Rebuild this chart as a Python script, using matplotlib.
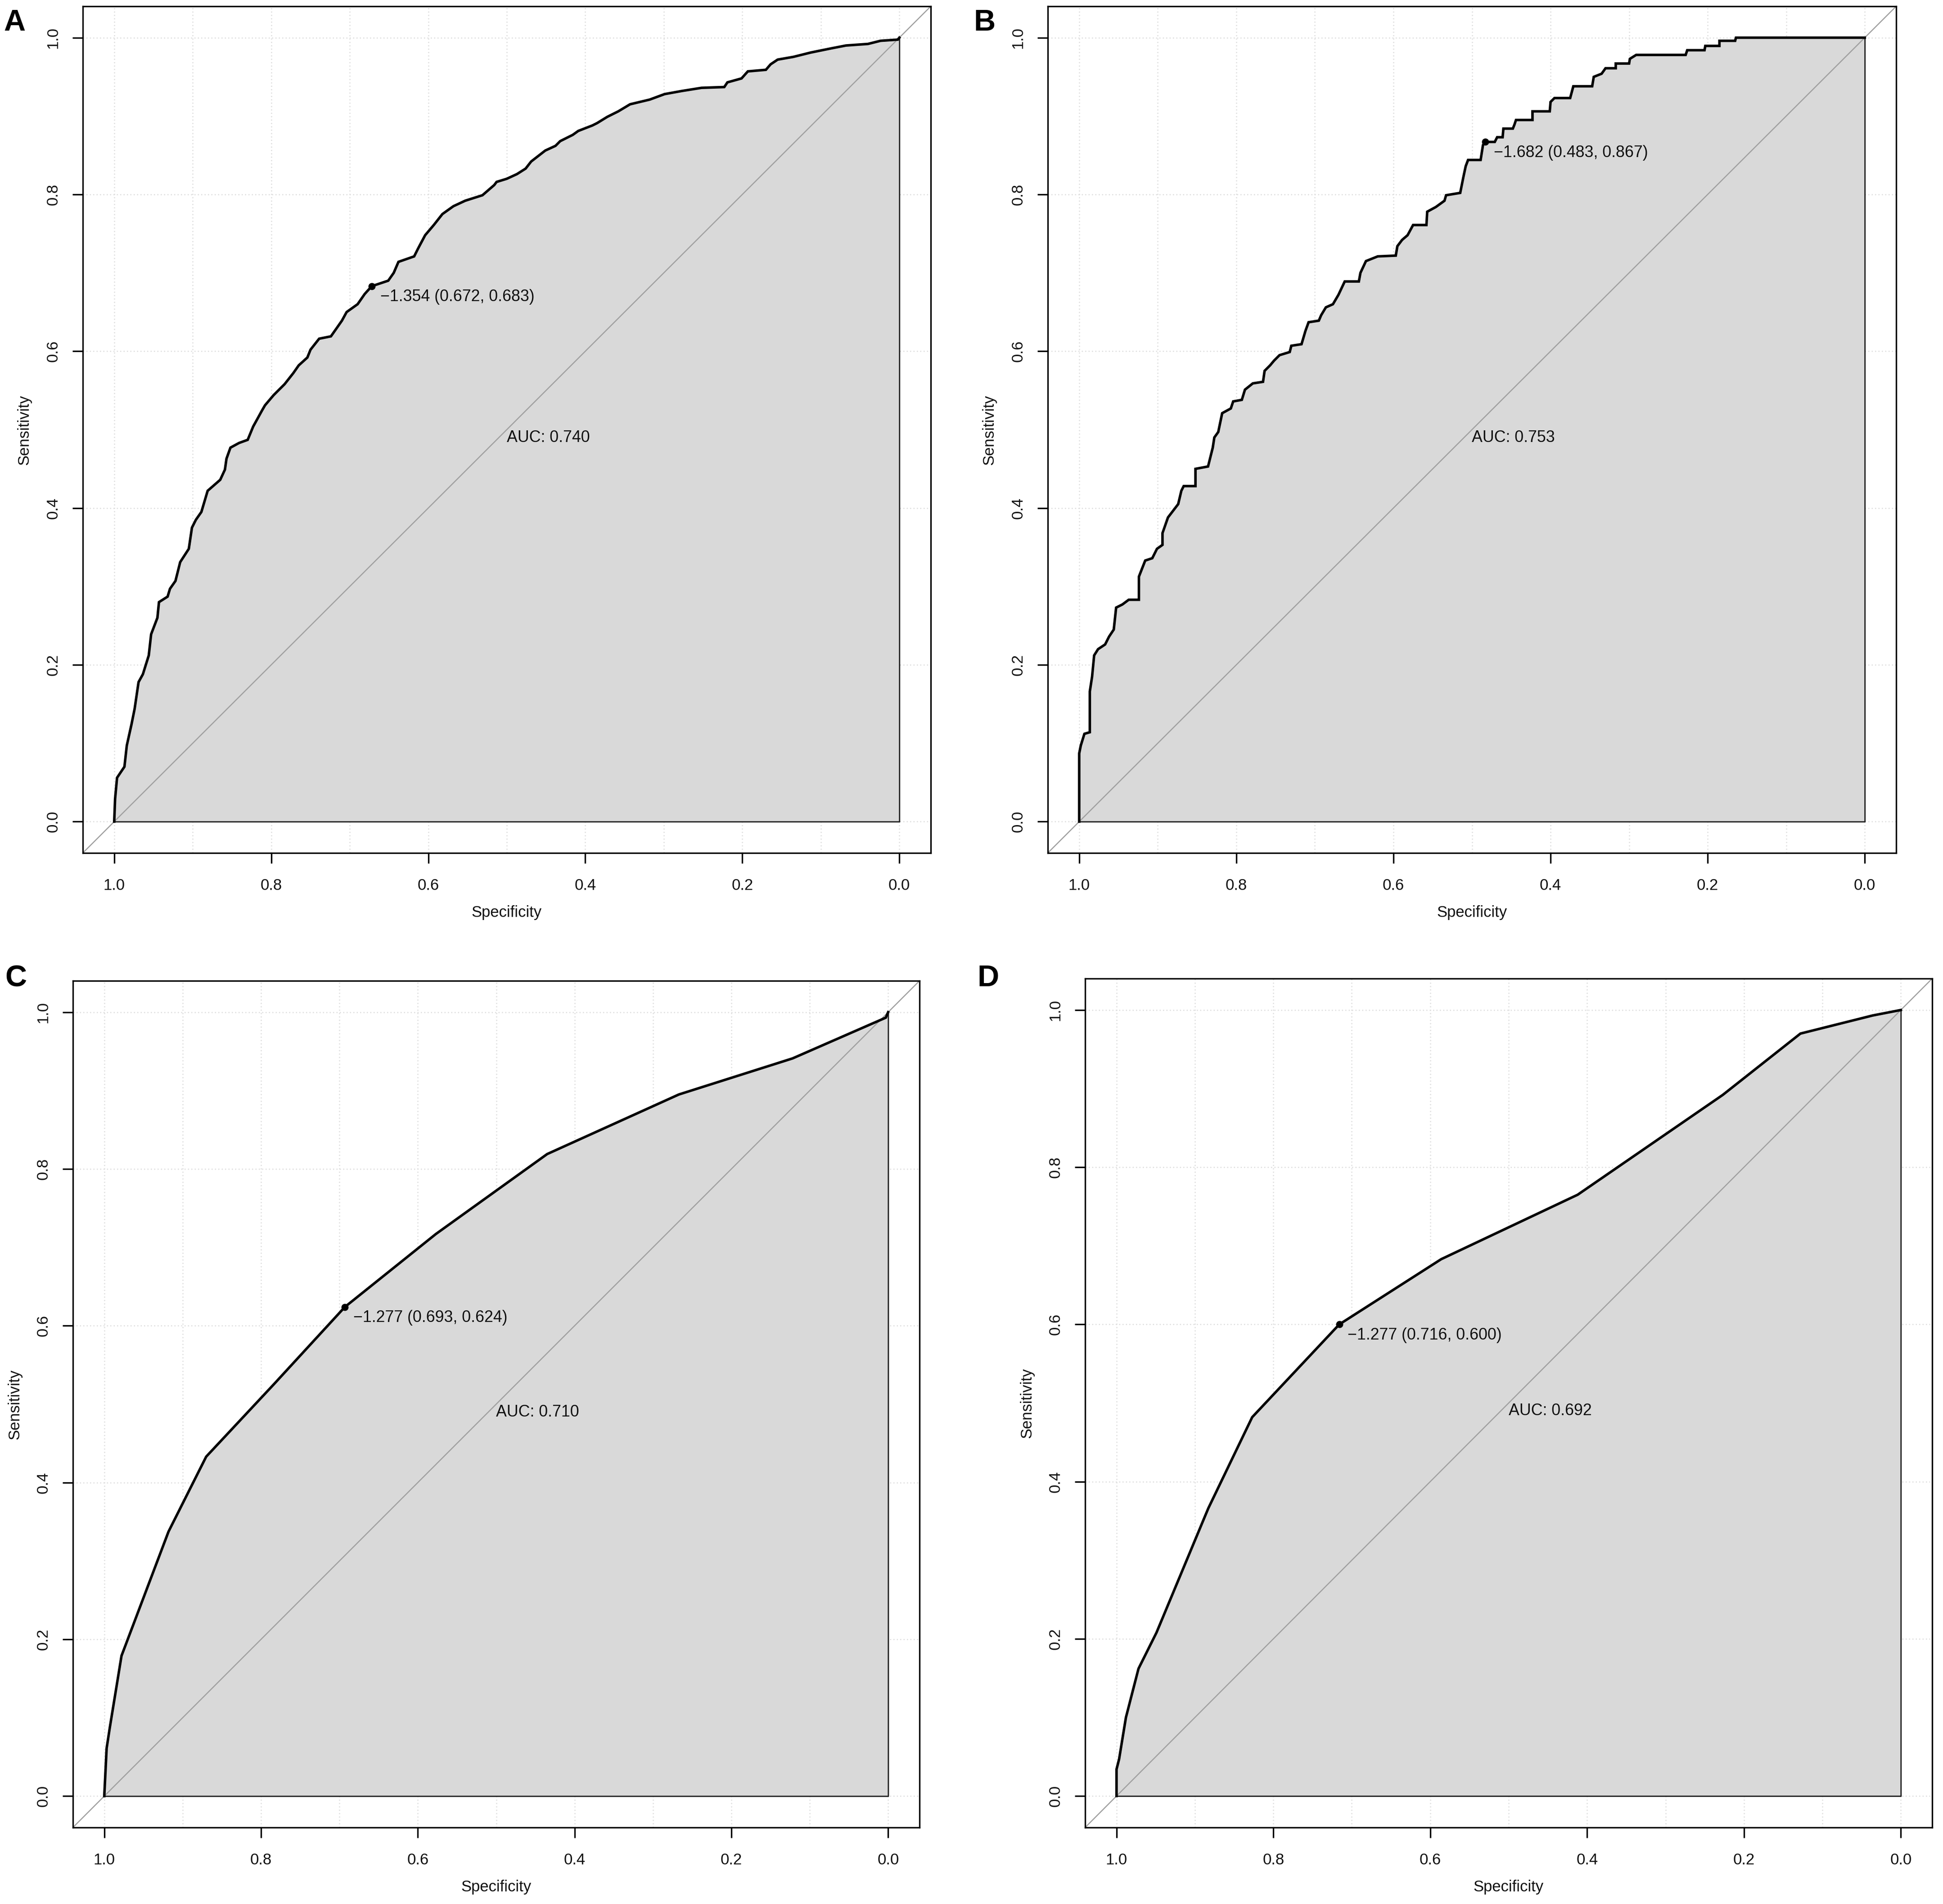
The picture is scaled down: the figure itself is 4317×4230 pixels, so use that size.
import matplotlib
matplotlib.use("Agg")
import matplotlib.pyplot as plt
import numpy as np

plt.rcParams['font.family'] = ['Liberation Sans', 'DejaVu Sans']

# ---------------- data ----------------
spec_A = [1.000, 0.9989, 0.9964, 0.987, 0.984, 0.978, 0.974, 0.969, 0.9635, 0.956,
          0.953, 0.945, 0.943, 0.932, 0.929, 0.922, 0.916, 0.905, 0.901, 0.896,
          0.889, 0.881, 0.865, 0.859, 0.857, 0.852, 0.841, 0.830, 0.823, 0.812,
          0.808, 0.797, 0.783, 0.772, 0.765, 0.754, 0.750, 0.739, 0.724, 0.717,
          0.710, 0.704, 0.690, 0.681, 0.672, 0.651, 0.644, 0.638, 0.618, 0.613,
          0.604, 0.593, 0.582, 0.568, 0.553, 0.531, 0.516, 0.513, 0.500, 0.487,
          0.476, 0.469, 0.460, 0.451, 0.438, 0.432, 0.416, 0.409, 0.391, 0.385,
          0.372, 0.358, 0.343, 0.318, 0.299, 0.277, 0.252, 0.223, 0.219, 0.201,
          0.193, 0.170, 0.164, 0.155, 0.135, 0.113, 0.086, 0.068, 0.040, 0.024,
          0.002, 0.000]
sens_A = [0.000, 0.029, 0.056, 0.070, 0.097, 0.124, 0.144, 0.178, 0.188, 0.212,
          0.239, 0.260, 0.280, 0.287, 0.297, 0.307, 0.331, 0.348, 0.375, 0.385,
          0.395, 0.422, 0.436, 0.449, 0.463, 0.477, 0.483, 0.487, 0.504, 0.524,
          0.531, 0.544, 0.558, 0.572, 0.582, 0.592, 0.602, 0.616, 0.619, 0.629,
          0.639, 0.650, 0.660, 0.673, 0.683, 0.690, 0.700, 0.714, 0.721, 0.731,
          0.748, 0.761, 0.775, 0.785, 0.792, 0.799, 0.812, 0.816, 0.820, 0.826,
          0.833, 0.842, 0.849, 0.856, 0.862, 0.868, 0.876, 0.881, 0.888, 0.891,
          0.899, 0.906, 0.915, 0.921, 0.928, 0.932, 0.936, 0.937, 0.943, 0.948,
          0.957, 0.959, 0.966, 0.972, 0.9755, 0.981, 0.9865, 0.990, 0.992, 0.996,
          0.9975, 1.000]

spec_B = [1.000, 1.000, 0.998, 0.9934, 0.9865, 0.9865, 0.9836, 0.981, 0.976, 0.967,
          0.962, 0.956, 0.953, 0.945, 0.937, 0.924, 0.924, 0.916, 0.907, 0.901,
          0.894, 0.894, 0.887, 0.874, 0.870, 0.867, 0.852, 0.852, 0.836, 0.830,
          0.828, 0.823, 0.818, 0.807, 0.804, 0.793, 0.789, 0.779, 0.766, 0.764,
          0.757, 0.752, 0.745, 0.732, 0.730, 0.717, 0.712, 0.708, 0.695, 0.692,
          0.686, 0.677, 0.670, 0.662, 0.644, 0.642, 0.635, 0.620, 0.597, 0.595,
          0.589, 0.582, 0.575, 0.558, 0.557, 0.546, 0.535, 0.533, 0.515, 0.511,
          0.508, 0.505, 0.489, 0.486, 0.483, 0.471, 0.468, 0.461, 0.460, 0.448,
          0.446, 0.444, 0.423, 0.423, 0.401, 0.400, 0.395, 0.375, 0.371, 0.347,
          0.345, 0.335, 0.330, 0.317, 0.317, 0.300, 0.299, 0.291, 0.228, 0.226,
          0.204, 0.203, 0.185, 0.185, 0.165, 0.164, 0.000]
sens_B = [0.000, 0.087, 0.097, 0.112, 0.114, 0.166, 0.185, 0.212, 0.220, 0.226,
          0.236, 0.245, 0.273, 0.277, 0.283, 0.283, 0.3125, 0.333, 0.336, 0.348,
          0.353, 0.368, 0.388, 0.405, 0.422, 0.428, 0.428, 0.450, 0.453, 0.477,
          0.490, 0.497, 0.521, 0.527, 0.536, 0.538, 0.551, 0.559, 0.561, 0.575,
          0.582, 0.588, 0.595, 0.599, 0.607, 0.609, 0.626, 0.637, 0.639, 0.646,
          0.656, 0.660, 0.672, 0.689, 0.689, 0.700, 0.715, 0.721, 0.722, 0.734,
          0.742, 0.748, 0.761, 0.761, 0.778, 0.784, 0.792, 0.799, 0.802, 0.822,
          0.836, 0.844, 0.844, 0.863, 0.867, 0.867, 0.873, 0.873, 0.884, 0.884,
          0.889, 0.895, 0.895, 0.906, 0.906, 0.918, 0.923, 0.923, 0.938, 0.938,
          0.950, 0.954, 0.961, 0.961, 0.967, 0.967, 0.973, 0.978, 0.978, 0.984,
          0.984, 0.9895, 0.9895, 0.996, 0.996, 1.000, 1.000]

spec_C = [1.000, 0.997, 0.993, 0.978, 0.918, 0.870, 0.784, 0.693, 0.577, 0.435,
          0.267, 0.122, 0.003, 0.000]
sens_C = [0.000, 0.061, 0.087, 0.179, 0.3375, 0.433, 0.525, 0.624, 0.717, 0.819,
          0.895, 0.941, 0.993, 1.000]

spec_D = [1.000, 1.000, 0.9967, 0.988, 0.972, 0.949, 0.883, 0.827, 0.716, 0.586,
          0.412, 0.227, 0.128, 0.036, 0.000]
sens_D = [0.000, 0.034, 0.047, 0.100, 0.162, 0.208, 0.366, 0.482, 0.600, 0.683,
          0.765, 0.892, 0.970, 0.993, 1.000]

panel_letters = ["A", "B", "C", "D"]
thresholds = [-1.354, -1.682, -1.277, -1.277]
best_spec = [0.672, 0.483, 0.693, 0.716]
best_sens = [0.683, 0.867, 0.624, 0.600]
auc_values = [0.740, 0.753, 0.710, 0.692]

tick_values = [0.0, 0.2, 0.4, 0.6, 0.8, 1.0]
grid_x = [i / 10 for i in range(11)]

# ---------------- layout ----------------
W, H = 4317, 4230
fig = plt.figure(figsize=(W / 300, H / 300), dpi=300)

# axes boxes in pixel coordinates (left, top, right, bottom)
boxes = [(184, 14, 2068, 1895), (2328, 14, 4213, 1895),
         (162, 2179, 2043, 4060), (2411, 2174, 4293, 4060)]
letter_pos = [(8, 20), (2163, 20), (11, 2143), (2171, 2143)]

curves = [(spec_A, sens_A), (spec_B, sens_B), (spec_C, sens_C), (spec_D, sens_D)]

FS = 8.3
for i, (l, t, r, b) in enumerate(boxes):
    ax = fig.add_axes([l / W, 1 - b / H, (r - l) / W, (b - t) / H])
    spec, sens = curves[i]
    ax.set_xlim(1.04, -0.04)
    ax.set_ylim(-0.04, 1.04)

    # grid
    ax.set_xticks(tick_values)
    ax.set_xticks(grid_x, minor=True)
    ax.set_yticks(tick_values)
    ax.grid(True, which='both', axis='x', color='#DDDDDD', linestyle=(0, (1, 2)),
            linewidth=0.6, zorder=0)
    ax.grid(True, which='major', axis='y', color='#DDDDDD', linestyle=(0, (1, 2)),
            linewidth=0.6, zorder=0)
    ax.set_axisbelow(True)

    ax.fill_between(spec, sens, 0, facecolor='#D9D9D9',
                    edgecolor='#222222', linewidth=0.7, zorder=1)
    ax.axline((1, 0), (0, 1), color='#A0A0A0', linewidth=0.6, zorder=2)
    ax.plot(spec, sens, color='black', linewidth=1.35, zorder=3,
            solid_joinstyle='miter')

    ax.plot([best_spec[i]], [best_sens[i]], 'o', color='black', markersize=2.8,
            zorder=4)
    ax.annotate("\u2212%.3f (%.3f, %.3f)" % (abs(thresholds[i]), best_spec[i], best_sens[i]),
                xy=(best_spec[i], best_sens[i]), xytext=(4.5, -1.5),
                textcoords='offset points', ha='left', va='top', fontsize=8.6,
                color='#111111', zorder=5)
    ax.text(0.5, 0.5, "AUC: %.3f" % auc_values[i], ha='left', va='top',
            fontsize=8.6, color='#111111', zorder=5)

    ax.set_xticklabels(["%.1f" % v for v in tick_values])
    ax.set_yticklabels(["%.1f" % v for v in tick_values])
    ax.tick_params(which='major', direction='out', length=5.5, width=0.8,
                   labelsize=FS, color='black', labelcolor='#111111')
    ax.tick_params(which='minor', length=0)
    ax.tick_params(axis='x', pad=8)
    ax.tick_params(axis='y', pad=6.4)
    for lab in ax.get_yticklabels():
        lab.set_rotation(90)
        lab.set_va('center')

    for sp in ax.spines.values():
        sp.set_linewidth(0.8)
        sp.set_color('black')

    ax.text(0.5, -0.0702, "Specificity", transform=ax.transAxes, ha='center',
            va='center', fontsize=FS, color='#111111')
    ax.text(-0.0688, 0.5, "Sensitivity", transform=ax.transAxes, ha='center',
            va='center', rotation=90, fontsize=FS, color='#111111')

    lx, ly = letter_pos[i]
    fig.text(lx / W, 1 - ly / H, panel_letters[i], ha='left', va='top',
             fontsize=16, fontweight='bold', color='black')

fig.savefig("out.png", dpi=300, facecolor='white')
